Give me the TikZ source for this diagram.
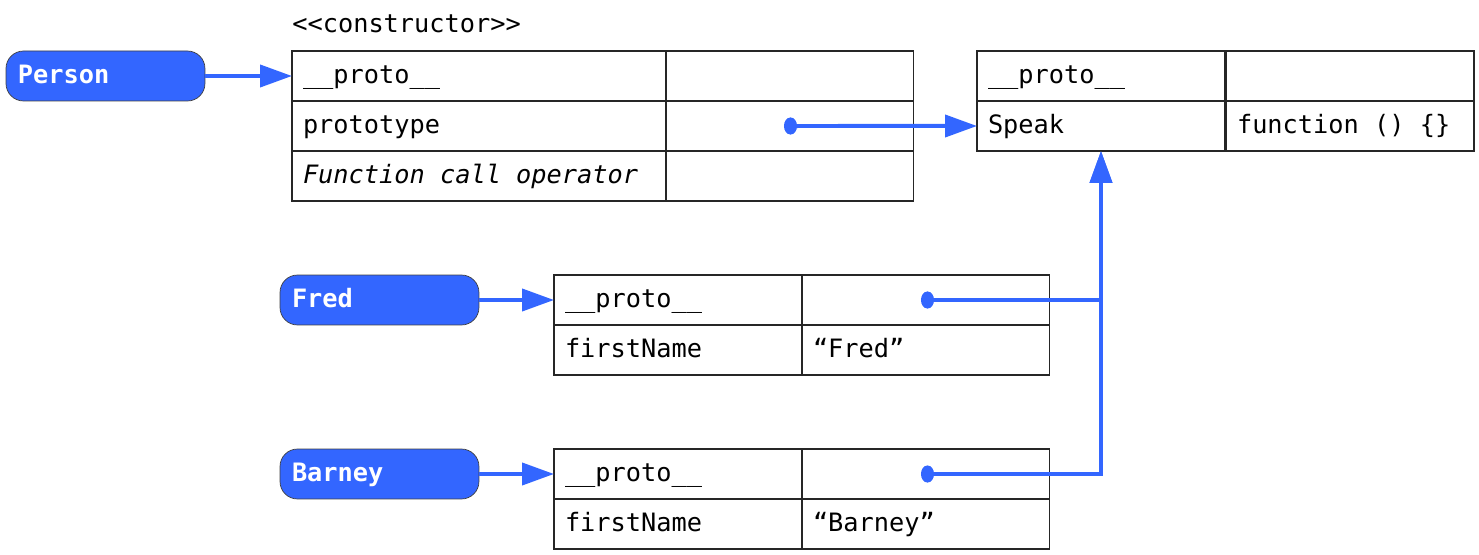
\documentclass[tikz,border=0pt]{standalone}
\usepackage{fontspec}
\setmonofont{DejaVu Sans Mono}
\usetikzlibrary{arrows.meta}
\definecolor{jsblue}{RGB}{51,102,255}
\newcommand\monofont{\ttfamily\fontsize{14.4}{17}\selectfont}
\tikzset{
  cell/.style={draw=black!85, line width=0.6pt, anchor=north west, outer sep=0pt,
    text width=#1, inner xsep=0.22cm, minimum height=1cm,
    text height=0.37cm, text depth=0.08cm, align=left, font=\monofont,
    execute at begin node={\spaceskip=0.602em\relax}},
  cell/.default=4.52cm,
  obj/.style={draw=black!75, fill=jsblue, rounded corners=0.35cm,
    anchor=north west, outer sep=0pt, text width=3.5cm, inner xsep=0.24cm,
    minimum height=1cm, text height=0.37cm, text depth=0.08cm,
    text=white, align=left, font=\monofont\bfseries},
  link/.style={jsblue, line width=0.08cm,
    -{Triangle[length=0.64cm,width=0.44cm]}},
  ptr/.style={link,
    {Ellipse[length=0.26cm,width=0.34cm]}-{Triangle[length=0.64cm,width=0.44cm]}},
}
\begin{document}
\begin{tikzpicture}[x=0.02cm, y=-0.02cm]
  \useasboundingbox (0,0) rectangle (1479,554);
  % constructor
  \node[anchor=base west, inner sep=0pt, font=\monofont] (ctor) at (292,33) {<<constructor>>};
  \node[cell=7.04cm] (c1) at (292,51) {\_\_proto\_\_};
  \node[cell] (c2) at (666,51) {};
  \node[cell=7.04cm] (c3) at (292,101) {prototype};
  \node[cell] (c4) at (666,101) {};
  \node[cell=7.04cm] (c5) at (292,151) {\itshape\spaceskip=0.602em Function call operator};
  \node[cell] (c6) at (666,151) {};
  % prototype object
  \node[cell] (p1) at (977,51) {\_\_proto\_\_};
  \node[cell] (p2) at (1226,51) {};
  \node[cell] (speak) at (977,101) {Speak};
  \node[cell] (p4) at (1226,101) {function () \{\}};
  % instances
  \node[cell] (f1) at (554,275) {\_\_proto\_\_};
  \node[cell] (f2) at (802,275) {};
  \node[cell] (f3) at (554,325) {firstName};
  \node[cell] (f4) at (802,325) {“Fred”};
  \node[cell] (b1) at (554,449) {\_\_proto\_\_};
  \node[cell] (b2) at (802,449) {};
  \node[cell] (b3) at (554,499) {firstName};
  \node[cell] (b4) at (802,499) {“Barney”};
  % variables
  \node[obj] (person) at (6,51) {Person};
  \node[obj] (fred) at (280,275) {Fred};
  \node[obj] (barney) at (280,449) {Barney};
  \coordinate (dc) at (784,126);
  \coordinate (df) at (921,300);
  \coordinate (db) at (921,474);
  \begin{scope}[link]
    \draw (person) -- (c1);
    \draw (fred) -- (f1);
    \draw (barney) -- (b1);
    \draw[ptr] (dc) -- (speak);
    \draw[ptr] (df) -| (speak);
    \draw[ptr] (db) -| (speak);
  \end{scope}
\end{tikzpicture}
\end{document}
